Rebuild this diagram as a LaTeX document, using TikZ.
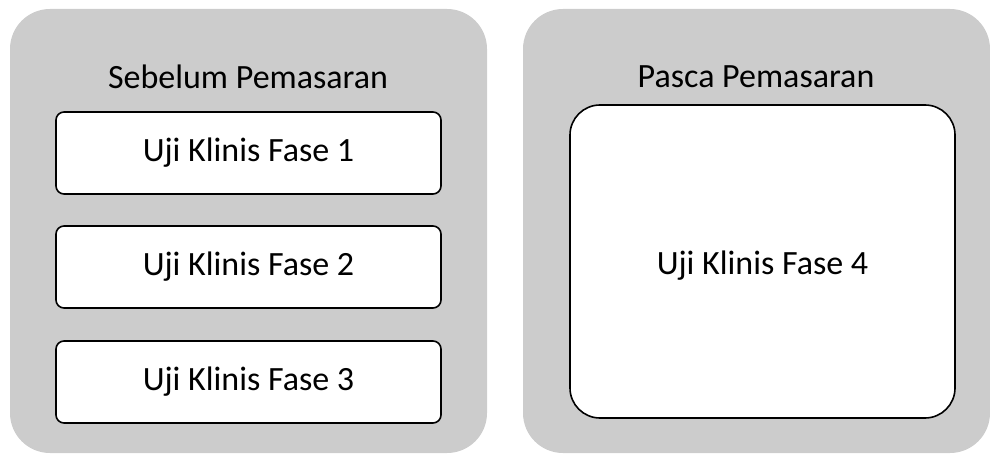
\documentclass[tikz,border=0pt]{standalone}
\usepackage{fontspec}
\setmainfont{Carlito}
\definecolor{panelgray}{HTML}{CCCCCC}
\begin{document}
\begin{tikzpicture}[x=1pt,y=-1pt,
  panel/.style={fill=panelgray,draw=none,rounded corners=40pt},
  phasebox/.style={draw=black,line width=1.6pt,fill=white,rounded corners=8pt},
  bigbox/.style={draw=black,line width=1.6pt,fill=white,rounded corners=30pt},
  lbl/.style={font=\fontsize{34}{40}\selectfont,text=black}]
\useasboundingbox (0,0) rectangle (990,454);
\path[panel] (10,9) rectangle (487,453);
\path[panel] (523,9) rectangle (990,453);
\node[lbl] (t1) at (248,77) {Sebelum Pemasaran};
\node[lbl] (t2) at (756,77) {Pasca Pemasaran};
\node[phasebox,minimum width=385pt,minimum height=82pt,lbl] (f1) at (248.5,153) {Uji Klinis Fase 1};
\node[phasebox,minimum width=385pt,minimum height=82pt,lbl] (f2) at (248.5,267) {Uji Klinis Fase 2};
\node[phasebox,minimum width=385pt,minimum height=82pt,lbl] (f3) at (248.5,382) {Uji Klinis Fase 3};
\node[bigbox,minimum width=385pt,minimum height=313pt] (f4) at (762.5,261.5) {};
\node[lbl] (f4t) at ([yshift=-4pt]f4.center) {Uji Klinis Fase 4};
\end{tikzpicture}
\end{document}
